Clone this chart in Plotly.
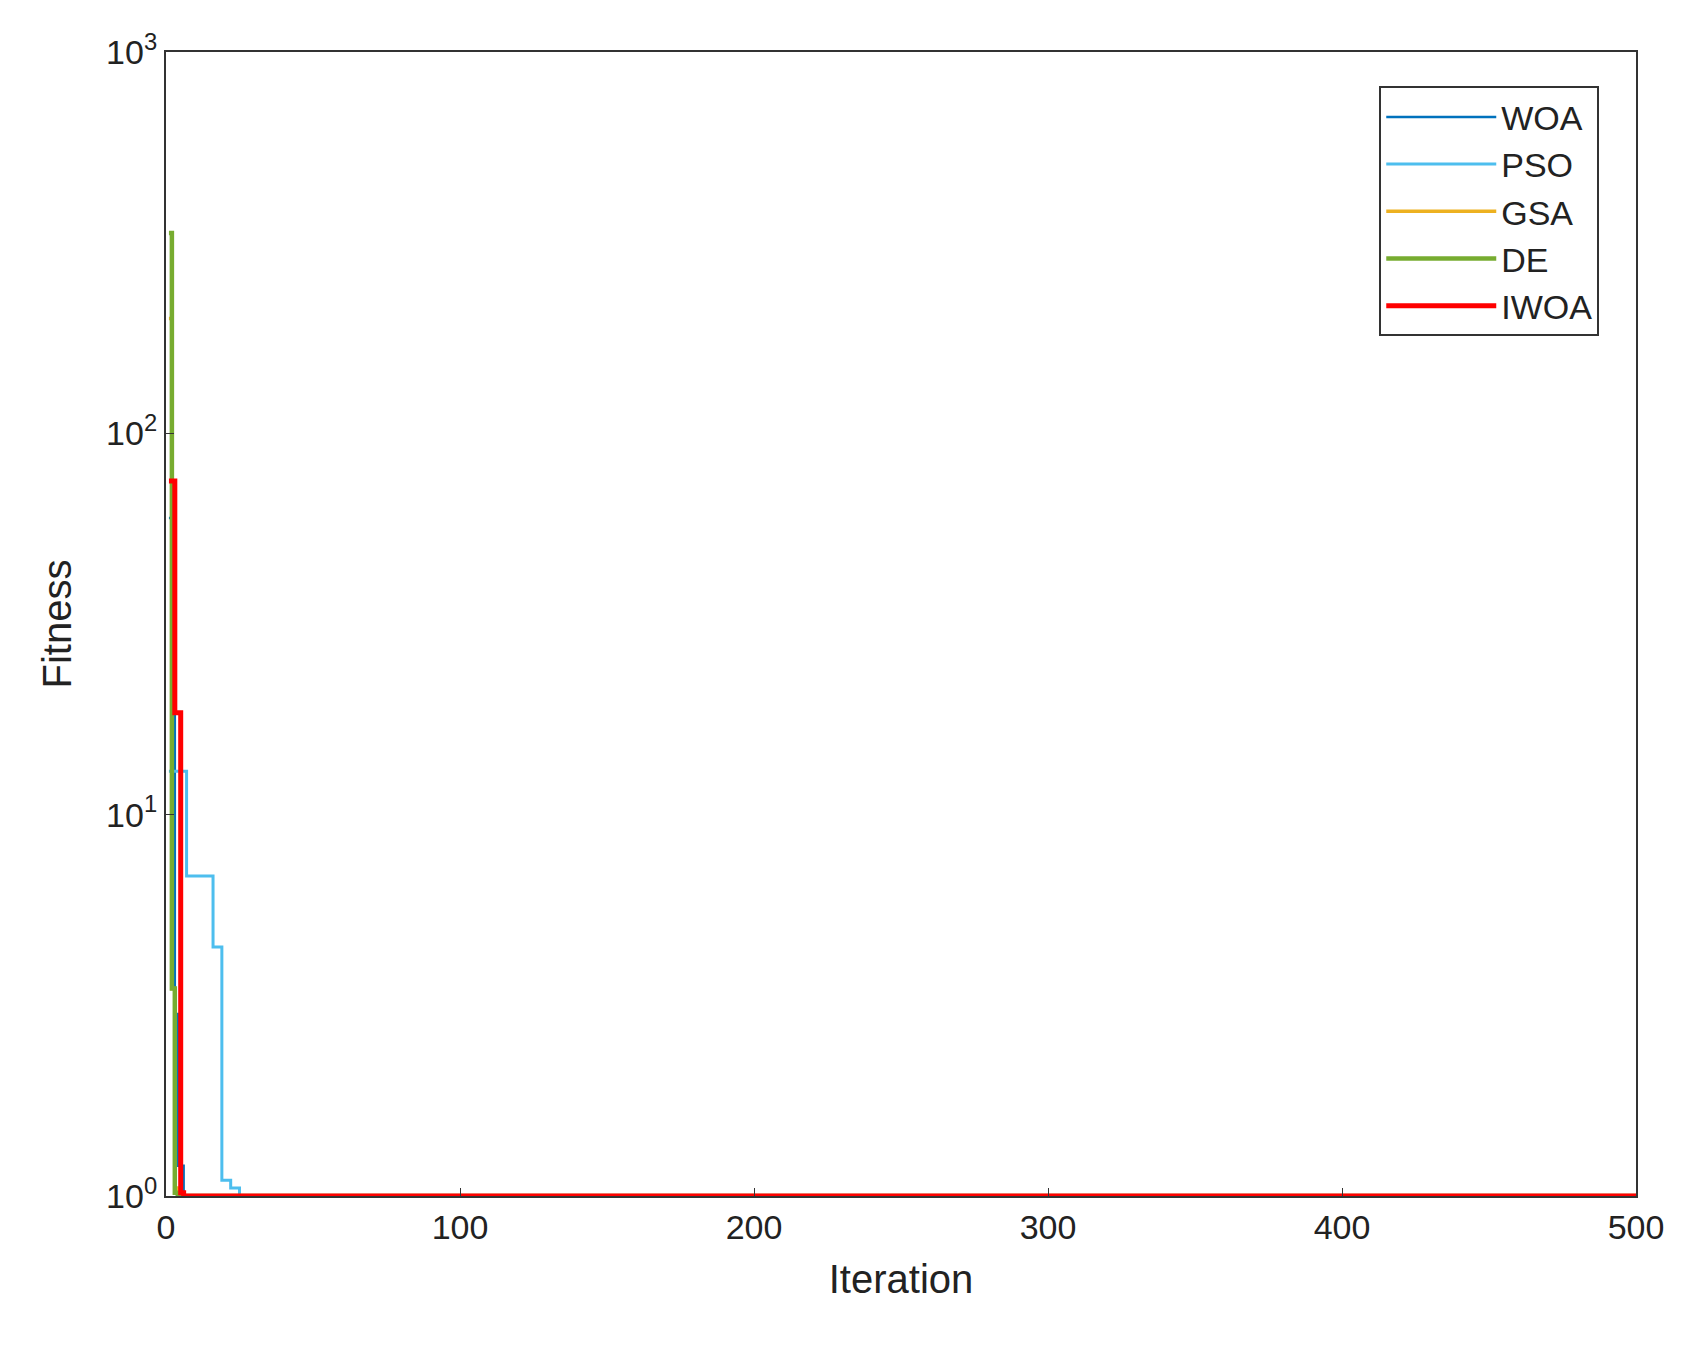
import plotly.graph_objects as go

# convergence curves (iteration, best fitness), step-wise
woa_iter = [1, 2, 3, 4, 6, 500]
woa_fit = [60, 20, 3.0, 1.2, 1.0, 1.0]
pso_iter = [1, 6, 7, 16, 19, 22, 25, 500]
pso_fit = [13, 13, 6.9, 4.5, 1.1, 1.05, 1.0, 1.0]
gsa_iter = [1, 2, 3, 4, 5, 500]
gsa_fit = [200, 3.5, 1.05, 1.02, 1.0, 1.0]
de_iter = [1, 2, 3, 4, 500]
de_fit = [335, 3.5, 1.02, 1.0, 1.0]
iwoa_iter = [1, 3, 5, 6, 500]
iwoa_fit = [75, 18.5, 1.02, 1.0, 1.0]

series = [
    ("WOA", woa_iter, woa_fit, "#0072BD", 2.5),
    ("PSO", pso_iter, pso_fit, "#4DBEEE", 3),
    ("GSA", gsa_iter, gsa_fit, "#EDB120", 3.5),
    ("DE", de_iter, de_fit, "#77AC30", 4.5),
    ("IWOA", iwoa_iter, iwoa_fit, "#FF0000", 5),
]

fig = go.Figure()
for name, xs, ys, color, w in series:
    fig.add_trace(go.Scatter(x=xs, y=ys, mode="lines", name=name, line_shape="hv",
                             line=dict(color=color, width=w)))

axis_style = dict(showline=True, mirror=True, linecolor="#333", linewidth=2,
                  ticks="inside", ticklen=8, tickcolor="#333", showgrid=False, zeroline=False,
                  tickfont=dict(family="Liberation Sans, Arial", size=34, color="#222"))
fig.update_layout(
    width=1696, height=1368,
    plot_bgcolor="white", paper_bgcolor="white",
    margin=dict(l=158, r=68, t=44, b=180),
    font=dict(family="Liberation Sans, Arial", color="#222"),
    xaxis=dict(range=[0, 500], dtick=100, title=dict(text="Iteration", font=dict(size=40), standoff=20),
               **axis_style),
    yaxis=dict(type="log", range=[0, 3], tickvals=[1, 10, 100, 1000],
               ticktext=["10<sup>0</sup>", "10<sup>1</sup>", "10<sup>2</sup>", "10<sup>3</sup>"],
               title=dict(text="Fitness", font=dict(size=40), standoff=22), **axis_style),
    legend=dict(x=0.975, y=0.97, xanchor="right", yanchor="top", bgcolor="white",
                bordercolor="#333", borderwidth=2, font=dict(size=34), itemwidth=110,
                tracegroupgap=6),
)
fig.write_html("out.html")
